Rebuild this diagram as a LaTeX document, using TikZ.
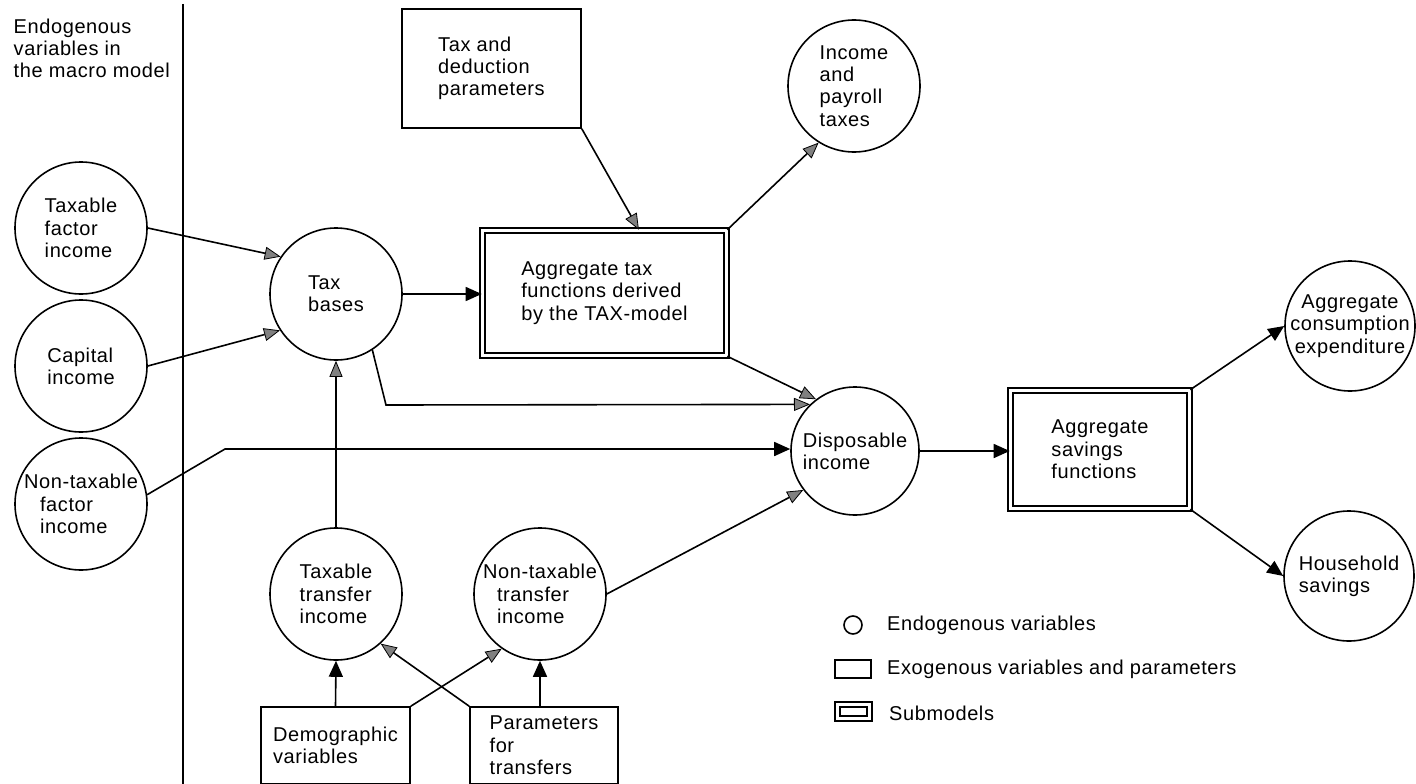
\documentclass[tikz,border=0pt]{standalone}
\usepackage{fontspec}
\setmainfont{Liberation Sans}[LetterSpace=3]
\usetikzlibrary{arrows.meta,calc}
\begin{document}
\begin{tikzpicture}[x=1pt,y=-1pt,
  every node/.style={font=\fontsize{20}{22.3}\selectfont},
  lw/.style={line width=1.6pt},
  var/.style={draw, circle, lw, inner sep=0pt, minimum size=132pt, align=left},
  exo/.style={draw, rectangle, lw, inner sep=0pt, align=left},
  sub/.style={draw, rectangle, lw, double, double distance=3.4pt, inner sep=0pt, align=left},
  blk/.style={lw, -{Triangle[length=16pt,width=14pt]}},
  gry/.style={lw, -{Triangle[length=16pt,width=13pt,fill=black!50,line width=0.8pt]}},
  lbl/.style={inner sep=0pt, anchor=west},
]
\useasboundingbox (0,0) rectangle (1416,784);

% header and separator
\node[lbl, align=left] (hdr) at (13.5,48.5) {Endogenous\\variables in\\the macro model};
\draw[line width=1.3pt] (183,4) -- (183,784);

% endogenous variables
\node[var] (tfi) at (81,228) {Taxable\\factor\\income};
\node[var] (cap) at (81,366) {Capital\\income};
\node[var] (ntf) at (81,504) {Non-taxable\\\hspace*{16pt}factor\\\hspace*{16pt}income};
\node[var] (taxb) at (336,294) {Tax\\bases};
\node[var] (inc) at (854,86) {Income\\and\\payroll\\taxes};
\node[var, minimum size=128pt] (disp) at (855,451) {Disposable\\income};
\node[var, minimum size=130pt, align=center, inner sep=-6pt] (cons) at (1350,326) {Aggregate\\consumption\\expenditure};
\node[var, minimum size=130pt] (hh) at (1349,576) {Household\\savings};
\node[var] (tti) at (336,594) {Taxable\\transfer\\income};
\node[var] (ntt) at (540,594) {Non-taxable\\\hspace*{14pt}transfer\\\hspace*{14pt}income};

% exogenous boxes
\node[exo, minimum width=179pt, minimum height=119pt] (taxded) at (491.5,68.5) {Tax and\\deduction\\parameters};
\node[exo, minimum width=149pt, minimum height=77pt] (demo) at (335.5,745.5) {Demographic\\variables};
\node[exo, minimum width=148pt, minimum height=77pt] (par) at (544,745.5) {Parameters\\for\\transfers};

% submodels
\node[sub, minimum width=244pt, minimum height=125pt] (aggtax) at (604.5,293) {Aggregate tax\\functions derived\\by the TAX-model};
\node[sub, minimum width=179pt, minimum height=118pt] (sav) at (1100,449.5) {Aggregate\\savings\\functions};

% connectors
\draw[gry] (tfi.east) -- (taxb.146);
\draw[gry] (cap.east) -- (taxb.213);
\draw[blk] (taxb.east) -- (taxb.east -| aggtax.west);
\draw[gry] (taxded.south east) -- ($(aggtax.north west)!0.64!(aggtax.north east)$);
\draw[gry] (aggtax.north east) -- (inc.238);
\draw[gry] (aggtax.south east) -- (disp.127);
\coordinate (c1) at (386,405);
\draw[gry] (taxb.303) -- (c1) -- (disp.134);
\coordinate (c2) at (225,449);
\draw[blk] (ntf.8) -- (c2) -- (c2 -| disp.west);
\draw[blk] (disp.east) -- (disp.east -| sav.west);
\draw[blk] (sav.north east) -- (cons.west);
\draw[blk] (sav.south east) -- (hh.west);
\draw[gry] (ntt.east) -- (disp.217);
\draw[gry] (tti.north) -- (taxb.south);
\draw[blk] (demo.north) -- (tti.south);
\draw[blk] (ntt.south |- par.north) -- (ntt.south);
\draw[gry] (demo.north east) -- (ntt.235);
\draw[gry] (par.north west) -- (tti.312);

% legend
\node[draw, circle, lw, minimum size=18pt, inner sep=0pt] (lc) at (853,625) {};
\node[lbl] (lct) at (887,625) {Endogenous variables};
\node[draw, lw, minimum width=36pt, minimum height=18pt, inner sep=0pt] (lr) at (853,669) {};
\node[lbl] (lrt) at (887,669) {Exogenous variables and parameters};
\node[draw, lw, double, double distance=3.2pt, minimum width=32pt, minimum height=14pt, inner sep=0pt] (ld) at (853.5,711.5) {};
\node[lbl] (ldt) at (889,713) {Submodels};
\end{tikzpicture}
\end{document}
